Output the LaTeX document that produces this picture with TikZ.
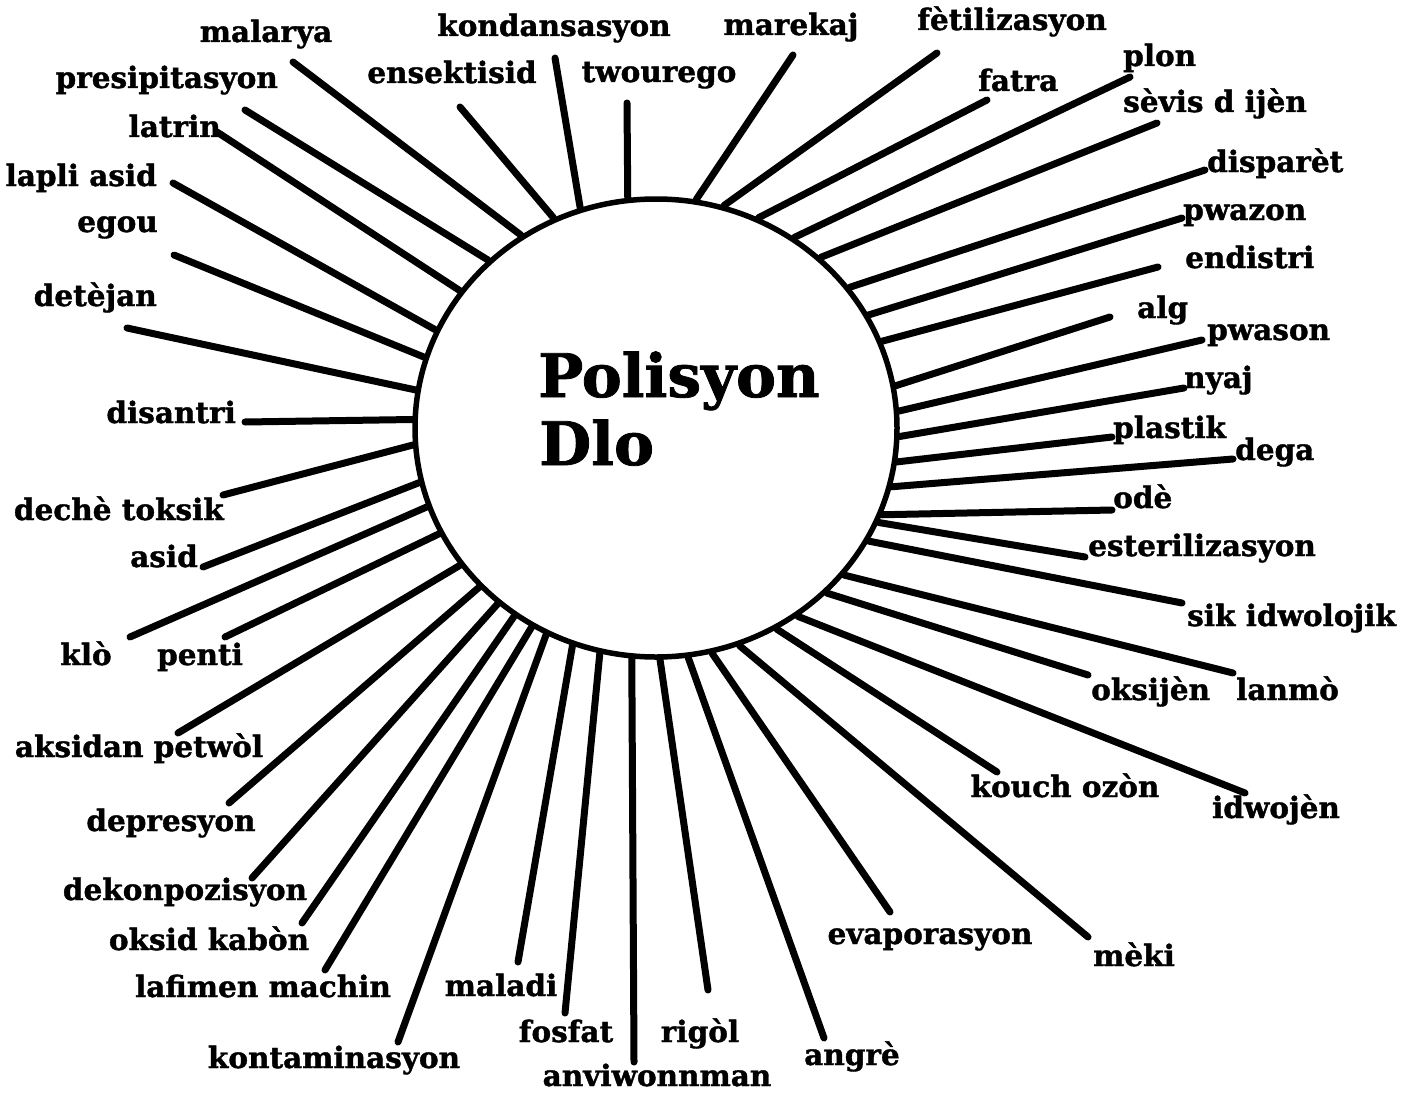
\documentclass[tikz,border=0pt]{standalone}
\usepackage{fontspec}
\setmainfont{DejaVu Serif}
\newfontfamily\heavy{DejaVu Serif}[UprightFont=* Bold, FakeBold=1.3]
\usetikzlibrary{shapes.geometric}
\tikzset{
  lbl/.style={font=\heavy\fontsize{29.5}{31}\selectfont, inner sep=0pt},
  L/.style={lbl, anchor=base east},
  R/.style={lbl, anchor=base west},
  C/.style={lbl, anchor=base},
  ttl/.style={font=\heavy\fontsize{60}{64}\selectfont, inner sep=0pt, anchor=base west},
  spoke/.style={line width=7pt, line cap=round},
  hub/.style={draw, ellipse, line width=5.5pt, minimum width=482pt, minimum height=458pt, inner sep=0pt},
}
\begin{document}
\begin{tikzpicture}[x=1pt,y=-1pt]
\useasboundingbox[fill=white] (0,0) rectangle (1412,1094);
\node[hub] (c) at (656,428) {};
\node[ttl] (t1) at (538,397) {Polisyon};
\node[ttl] (t2) at (539,465) {Dlo};

% labels
\node[C] (malarya) at (266,42) {malarya};
\node[C] (kondansasyon) at (554,36) {kondansasyon};
\node[C] (ensektisid) at (452,83) {ensektisid};
\node[C] (twourego) at (659,82) {twourego};
\node[C] (marekaj) at (791,35) {marekaj};
\node[C] (fetilizasyon) at (1012,30) {fètilizasyon};
\node[L] (presipitasyon) at (278,88) {presipitasyon};
\node[L] (latrin) at (221,137) {latrin};
\node[L] (lapliasid) at (157,186) {lapli asid};
\node[L] (egou) at (158,232) {egou};
\node[L] (detejan) at (157,306) {detèjan};
\node[L] (disantri) at (236,423) {disantri};
\node[L] (decheToksik) at (224,520) {dechè toksik};
\node[L] (asid) at (198,567) {asid};
\node[C] (klo) at (86,665) {klò};
\node[C] (penti) at (200,665) {penti};
\node[C] (aksidan) at (139,757) {aksidan petwòl};
\node[C] (depresyon) at (171,831) {depresyon};
\node[C] (dekonpozisyon) at (185,900) {dekonpozisyon};
\node[C] (oksidkabon) at (209,950) {oksid kabòn};
\node[C] (lafimen) at (263,997) {lafimen machin};
\node[C] (kontaminasyon) at (334,1068) {kontaminasyon};
\node[C] (maladi) at (501,996) {maladi};
\node[C] (fosfat) at (566,1042) {fosfat};
\node[C] (anviwonnman) at (657,1086) {anviwonnman};
\node[C] (rigol) at (700,1042) {rigòl};
\node[C] (angre) at (852,1065) {angrè};
\node[C] (evaporasyon) at (930,944) {evaporasyon};
\node[C] (meki) at (1134,966) {mèki};
\node[C] (kouchozon) at (1065,797) {kouch ozòn};
\node[C] (idwojen) at (1276,818) {idwojèn};
\node[R] (oksijen) at (1091,700) {oksijèn};
\node[R] (lanmo) at (1236,700) {lanmò};
\node[R] (sik) at (1187,626) {sik idwolojik};
\node[R] (esterilizasyon) at (1088,556) {esterilizasyon};
\node[R] (ode) at (1113,508) {odè};
\node[R] (dega) at (1235,460) {dega};
\node[R] (plastik) at (1113,438) {plastik};
\node[R] (nyaj) at (1184,388) {nyaj};
\node[R] (pwason) at (1207,340) {pwason};
\node[R] (alg) at (1137,318) {alg};
\node[R] (endistri) at (1185,268) {endistri};
\node[R] (pwazon) at (1183,220) {pwazon};
\node[R] (disparet) at (1207,172) {disparèt};
\node[R] (sevis) at (1123,112) {sèvis d ijèn};
\node[R] (plon) at (1123,66) {plon};
\node[R] (fatra) at (978,91) {fatra};

% spoke ends
\coordinate (e1) at (293,62);
\coordinate (e2) at (245,110);
\coordinate (e3) at (217,132);
\coordinate (e4) at (173,183);
\coordinate (e5) at (174,255);
\coordinate (e6) at (127,328);
\coordinate (e7) at (245,422);
\coordinate (e8) at (223,495);
\coordinate (e9) at (203,567);
\coordinate (e10) at (130,637);
\coordinate (e11) at (225,637);
\coordinate (e12) at (178,733);
\coordinate (e13) at (229,803);
\coordinate (e14) at (252,878);
\coordinate (e15) at (302,923);
\coordinate (e16) at (325,970);
\coordinate (e17) at (398,1042);
\coordinate (e18) at (518,962);
\coordinate (e19) at (565,1013);
\coordinate (e20) at (634,1062);
\coordinate (e21) at (708,990);
\coordinate (e22) at (824,1038);
\coordinate (e23) at (890,912);
\coordinate (e24) at (1088,937);
\coordinate (e25) at (997,772);
\coordinate (e26) at (1245,793);
\coordinate (e27) at (1088,675);
\coordinate (e28) at (1233,673);
\coordinate (e29) at (1182,603);
\coordinate (e30) at (1085,557);
\coordinate (e31) at (1112,510);
\coordinate (e32) at (1233,459);
\coordinate (e33) at (1112,437);
\coordinate (e34) at (1184,388);
\coordinate (e35) at (1202,340);
\coordinate (e36) at (1110,317);
\coordinate (e37) at (1158,267);
\coordinate (e38) at (1182,218);
\coordinate (e39) at (1205,170);
\coordinate (e40) at (1157,123);
\coordinate (e41) at (1130,77);
\coordinate (e42) at (987,100);
\coordinate (e43) at (937,53);
\coordinate (e44) at (793,55);
\coordinate (e45) at (627,103);
\coordinate (e46) at (555,58);
\coordinate (e47) at (460,107);

\foreach \e/\a in {e1/125.9,e2/135.5,e3/145.4,e4/156.5,e5/163.6,e6/171.7,
  e7/178.1,e8/184.7,e9/193.0,e10/199.1,e11/206.3,e12/215.8,e13/222.6,
  e14/228.4,e15/233.0,e16/238.4,e17/242.7,e18/249.7,e19/256.4,e20/264.0,
  e21/271.0,e22/278.5,e23/284.3,e24/291.8,e25/301.3,e26/307.0,e27/316.2,
  e28/322.7,e29/332.7,e30/337.1,e31/339.5,e32/346.9,e33/352.8,e34/358.3,
  e35/4.3,e36/10.8,e37/21.1,e38/28.0,e39/36.5,e40/46.2,e41/54.9,e42/64.1,
  e43/73.1,e44/80.8,e45/97.0,e46/109.7,e47/116.3}
  \draw[spoke] (\e) -- (c.\a);
\end{tikzpicture}
\end{document}
